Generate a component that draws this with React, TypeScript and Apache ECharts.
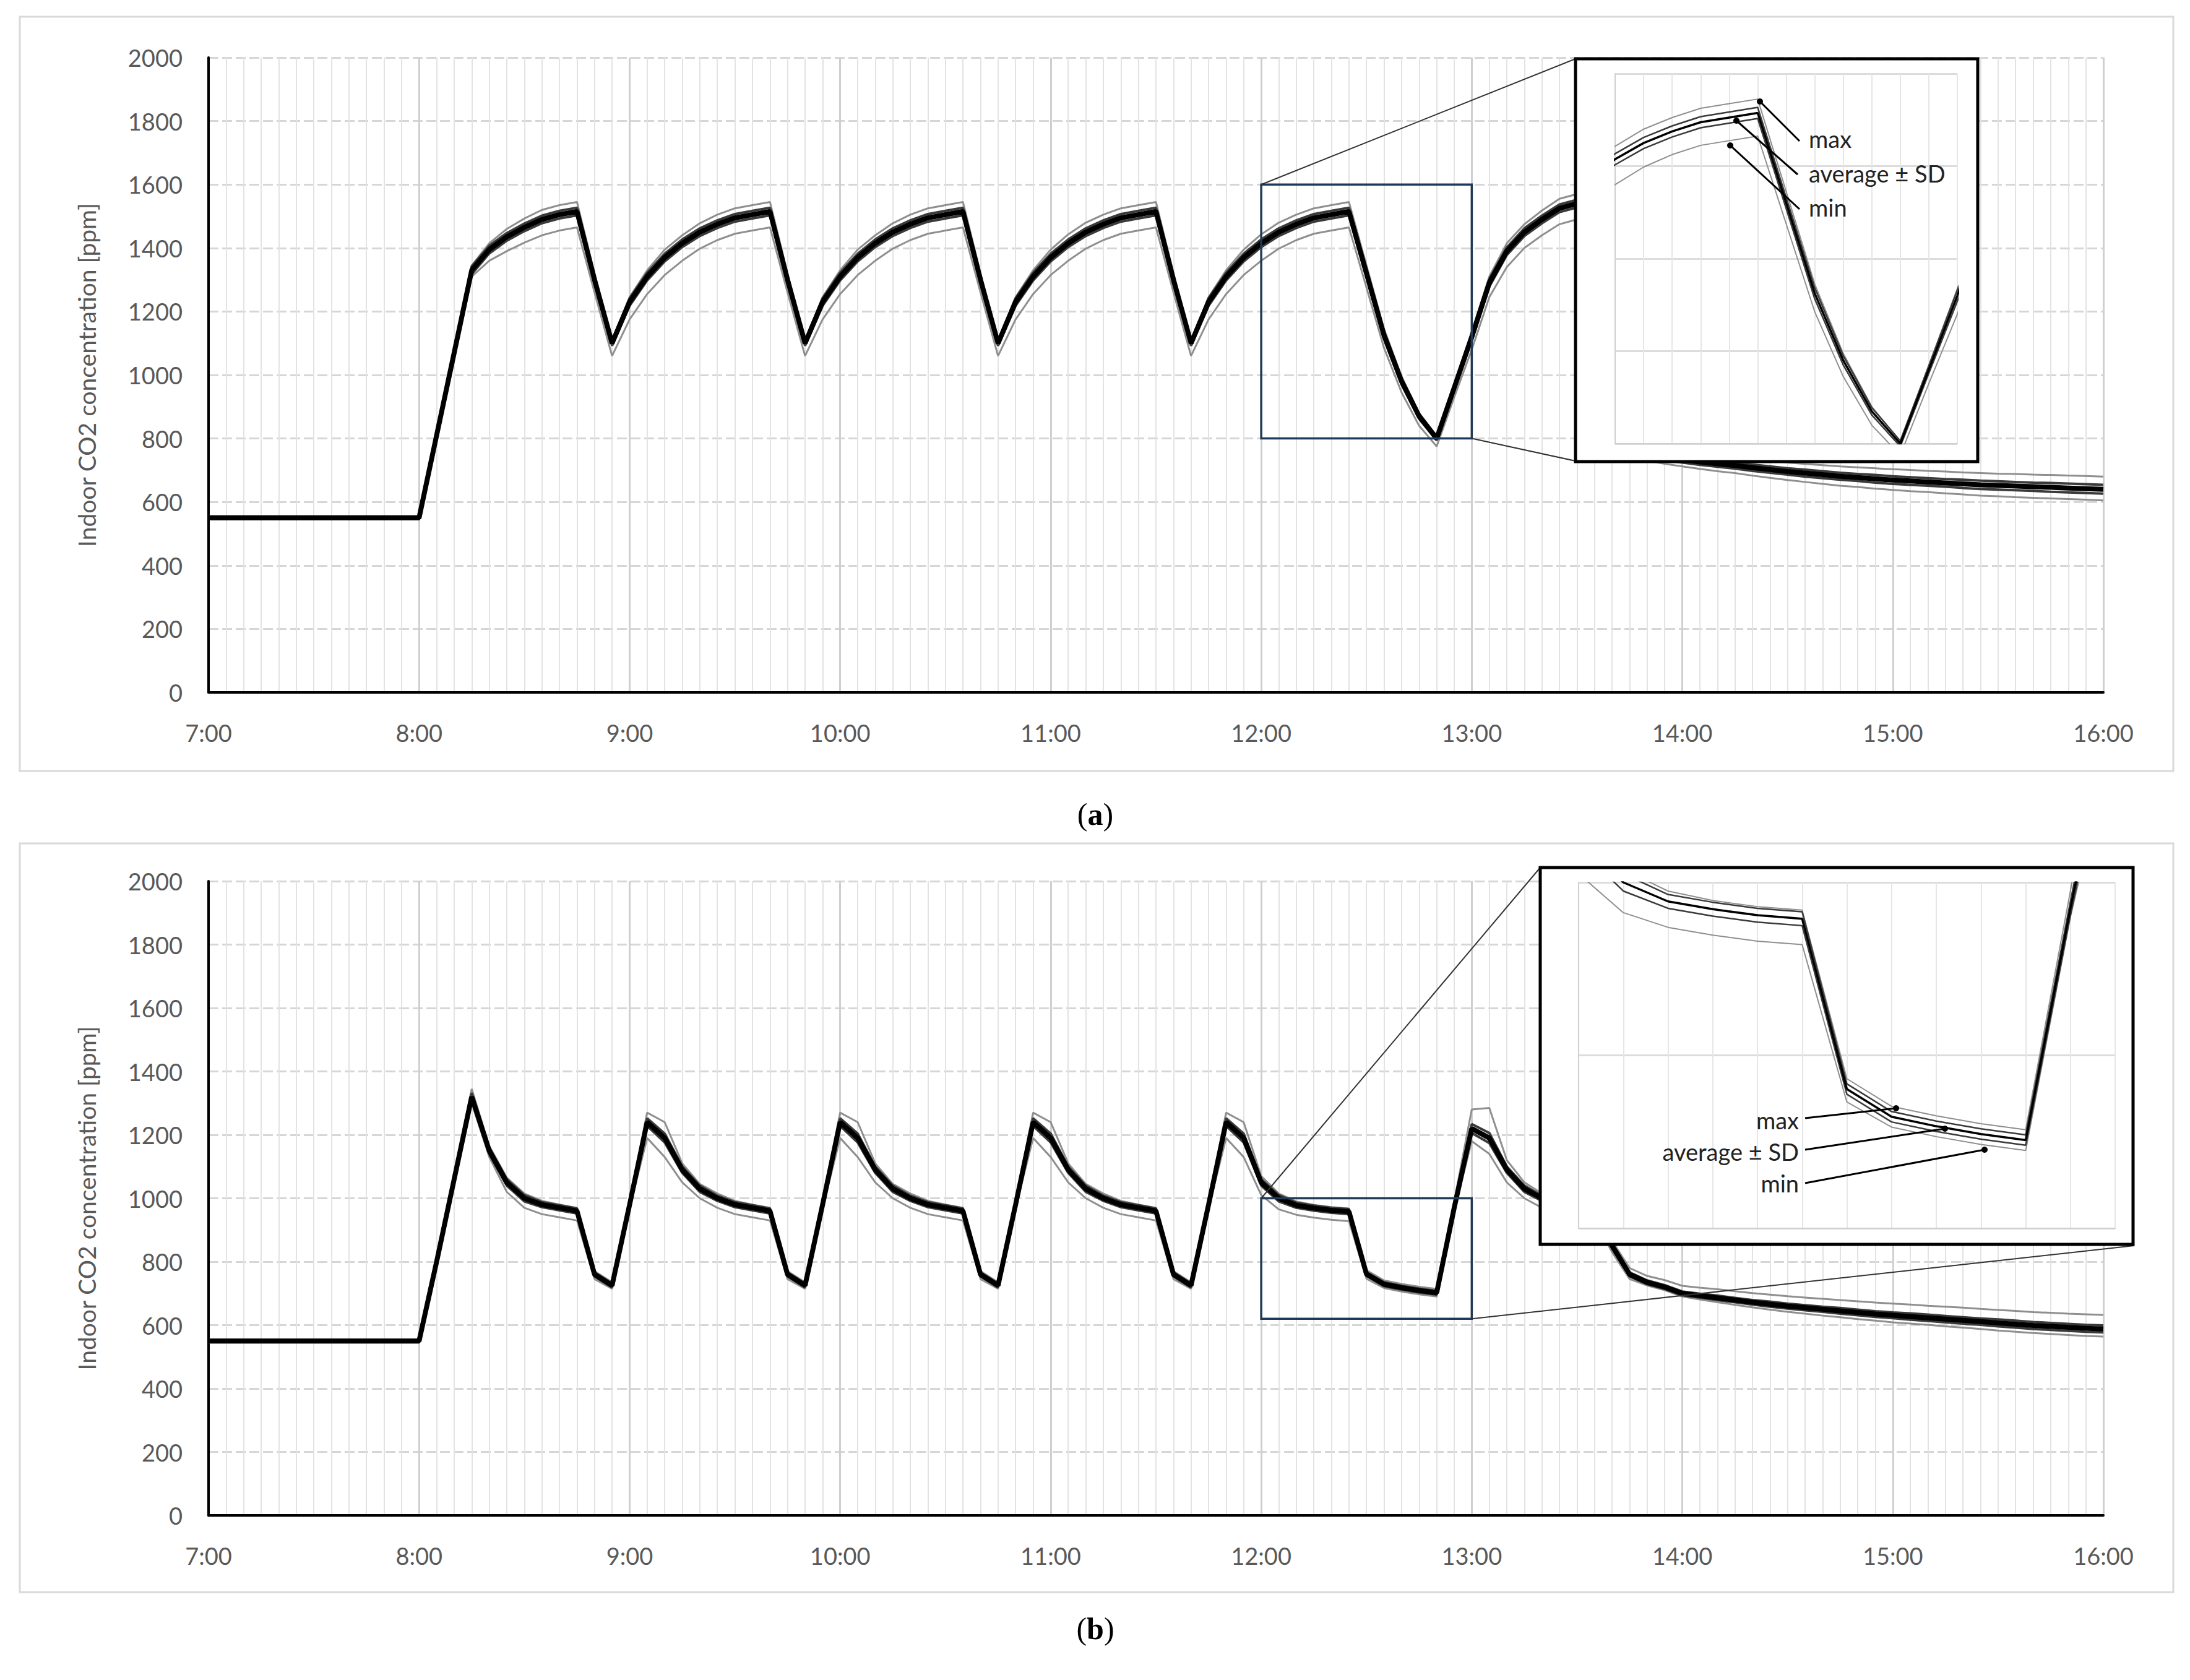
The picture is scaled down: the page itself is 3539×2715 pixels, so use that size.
import React, { useEffect, useRef } from "react";
import * as echarts from "echarts";

// one value every 5 minutes, 7:00 .. 16:00 (each row = one hour)
const avgA = [
  550, 550, 550, 550, 550, 550, 550, 550, 550, 550, 550, 550,
  550, 810, 1070, 1330, 1395, 1435, 1465, 1490, 1505, 1515, 1300, 1100,
  1230, 1310, 1370, 1415, 1450, 1475, 1495, 1505, 1515, 1300, 1100, 1230,
  1310, 1370, 1415, 1450, 1475, 1495, 1505, 1515, 1300, 1100, 1230, 1310,
  1370, 1415, 1450, 1475, 1495, 1505, 1515, 1300, 1100, 1230, 1310, 1370,
  1415, 1450, 1475, 1495, 1505, 1515, 1320, 1125, 980, 870, 800, 960,
  1120, 1290, 1390, 1450, 1490, 1525, 1540, 1550, 1150, 850, 750, 740,
  733, 726, 720, 715, 708, 702, 696, 691, 686, 681, 677, 673,
  669, 666, 663, 660, 657, 654, 652, 650, 648, 646, 644, 642,
  640,
];
const maxOffA = [
  5, 5, 5, 5, 5, 5, 5, 5, 5, 5, 5, 5,
  5, 10, 10, 15, 20, 25, 28, 30, 30, 30, 20, 0,
  15, 20, 25, 25, 28, 30, 30, 30, 30, 20, 0, 15,
  20, 25, 25, 28, 30, 30, 30, 30, 20, 0, 15, 20,
  25, 28, 30, 30, 30, 30, 30, 20, 0, 15, 20, 25,
  28, 30, 30, 30, 30, 30, 25, 20, 15, 10, 5, 10,
  15, 20, 25, 25, 28, 30, 30, 30, 25, 20, 18, 20,
  22, 23, 24, 25, 26, 27, 28, 29, 30, 31, 32, 33,
  34, 35, 35, 36, 36, 37, 37, 38, 38, 39, 39, 40,
  40,
];
const minOffA = [
  5, 5, 5, 5, 5, 5, 5, 5, 5, 5, 5, 5,
  5, 10, 20, 20, 35, 45, 48, 50, 50, 50, 40, 40,
  55, 55, 55, 55, 52, 50, 50, 50, 50, 40, 40, 55,
  55, 55, 55, 52, 50, 50, 50, 50, 40, 40, 55, 55,
  55, 55, 52, 50, 50, 50, 50, 40, 40, 55, 55, 55,
  55, 52, 50, 50, 50, 50, 45, 40, 35, 30, 25, 30,
  40, 45, 50, 50, 50, 50, 50, 50, 40, 30, 20, 20,
  21, 22, 23, 24, 25, 26, 27, 28, 29, 30, 30, 31,
  31, 32, 32, 33, 33, 34, 34, 35, 35, 35, 35, 35,
  35,
];
const sdA = [
  3, 3, 3, 3, 3, 3, 3, 3, 3, 3, 3, 3,
  3, 8, 10, 12, 12, 12, 12, 12, 12, 12, 10, 8,
  12, 12, 12, 12, 12, 12, 12, 12, 12, 10, 8, 12,
  12, 12, 12, 12, 12, 12, 12, 12, 10, 8, 12, 12,
  12, 12, 12, 12, 12, 12, 12, 10, 8, 12, 12, 12,
  12, 12, 12, 12, 12, 12, 12, 12, 10, 8, 6, 8,
  12, 12, 12, 12, 12, 12, 12, 12, 10, 8, 8, 8,
  9, 9, 9, 10, 10, 10, 10, 11, 11, 11, 11, 12,
  12, 12, 12, 12, 13, 13, 13, 13, 13, 14, 14, 14,
  14,
];

const avgB = [
  550, 550, 550, 550, 550, 550, 550, 550, 550, 550, 550, 550,
  550, 800, 1060, 1320, 1150, 1050, 1000, 980, 970, 960, 760, 725,
  980, 1240, 1190, 1090, 1030, 1000, 980, 970, 960, 760, 725, 980,
  1240, 1190, 1090, 1030, 1000, 980, 970, 960, 760, 725, 980, 1240,
  1190, 1090, 1030, 1000, 980, 970, 960, 760, 725, 980, 1240, 1190,
  1050, 1000, 978, 969, 962, 958, 761, 729, 718, 709, 702, 970,
  1220, 1190, 1090, 1030, 1000, 980, 970, 960, 850, 760, 735, 720,
  700, 693, 686, 679, 672, 666, 660, 655, 650, 645, 640, 635,
  631, 627, 623, 619, 615, 611, 607, 603, 599, 596, 593, 590,
  588,
];
const maxOffB = [
  5, 5, 5, 5, 5, 5, 5, 5, 5, 5, 5, 5,
  5, 10, 15, 25, 15, 15, 15, 12, 10, 10, 10, 10,
  15, 30, 50, 20, 15, 15, 12, 10, 10, 10, 10, 15,
  30, 50, 20, 15, 15, 12, 10, 10, 10, 10, 15, 30,
  50, 20, 15, 15, 12, 10, 10, 10, 10, 15, 30, 50,
  20, 15, 12, 10, 10, 10, 12, 12, 12, 12, 12, 20,
  60, 95, 30, 20, 15, 15, 12, 10, 15, 20, 20, 22,
  24, 25, 27, 28, 29, 30, 31, 32, 33, 34, 35, 36,
  37, 38, 38, 39, 40, 40, 41, 42, 42, 43, 43, 44,
  44,
];
const minOffB = [
  5, 5, 5, 5, 5, 5, 5, 5, 5, 5, 5, 5,
  5, 10, 15, 20, 20, 30, 30, 30, 30, 30, 15, 10,
  10, 50, 60, 40, 30, 30, 30, 30, 30, 15, 10, 10,
  50, 60, 40, 30, 30, 30, 30, 30, 15, 10, 10, 50,
  60, 40, 30, 30, 30, 30, 30, 15, 10, 10, 50, 60,
  40, 35, 30, 30, 30, 30, 15, 12, 12, 12, 12, 10,
  40, 50, 40, 30, 30, 30, 30, 30, 20, 15, 10, 10,
  10, 12, 14, 15, 16, 17, 18, 19, 20, 20, 21, 21,
  22, 22, 22, 23, 23, 23, 24, 24, 24, 24, 24, 24,
  24,
];
const sdB = [
  3, 3, 3, 3, 3, 3, 3, 3, 3, 3, 3, 3,
  3, 8, 10, 12, 10, 10, 10, 8, 8, 8, 6, 6,
  8, 12, 14, 10, 10, 8, 8, 8, 8, 6, 6, 8,
  12, 14, 10, 10, 8, 8, 8, 8, 6, 6, 8, 12,
  14, 10, 10, 8, 8, 8, 8, 6, 6, 8, 12, 14,
  10, 10, 8, 8, 8, 8, 6, 6, 6, 6, 6, 8,
  14, 16, 10, 10, 8, 8, 8, 8, 8, 6, 6, 6,
  6, 6, 7, 7, 7, 8, 8, 8, 8, 9, 9, 9,
  9, 10, 10, 10, 10, 10, 11, 11, 11, 11, 11, 11,
  11,
];

const hourLabels = ["7:00", "8:00", "9:00", "10:00", "11:00", "12:00", "13:00", "14:00", "15:00", "16:00"];
const legendLabels = ["max", "average ± SD", "min"];
const yTitle = "Indoor CO2 concentration [ppm]";

const FONT = "Lato, 'Open Sans', sans-serif";
const LABEL = "#595959";

const minutes = avgA.map((_, i) => i * 5);

const pairs = (vals: number[]) => vals.map((v, i) => [minutes[i], v]);

const App: React.FC = () => {
  const ref = useRef<HTMLDivElement>(null);

  useEffect(() => {
    if (!ref.current) return;
    const chart = echarts.init(ref.current, null, { renderer: "svg" });

    const mainX = (gi: number) => ({
      type: "value" as const,
      gridIndex: gi,
      min: 0,
      max: 540,
      interval: 60,
      axisLine: { show: true, lineStyle: { color: "#000", width: 4 } },
      axisTick: { show: false },
      minorTick: { show: false, splitNumber: 12 },
      minorSplitLine: { show: true, lineStyle: { color: "#e3e3e3", width: 2 } },
      splitLine: { show: true, lineStyle: { color: "#cfcfcf", width: 3 } },
      axisLabel: {
        fontSize: 38,
        color: LABEL,
        fontFamily: FONT,
        margin: 46,
        formatter: (v: number) => hourLabels[Math.round(v / 60)],
      },
    });
    const mainY = (gi: number) => ({
      type: "value" as const,
      gridIndex: gi,
      min: 0,
      max: 2000,
      interval: 200,
      name: yTitle,
      nameLocation: "middle" as const,
      nameRotate: 90,
      nameGap: 178,
      nameTextStyle: { fontSize: 39, color: LABEL, fontFamily: FONT },
      axisLine: { show: true, lineStyle: { color: "#000", width: 4 } },
      axisTick: { show: false },
      splitLine: { show: true, lineStyle: { color: "#d6d6d6", width: 3, type: [16, 6] } },
      axisLabel: { fontSize: 38, color: LABEL, fontFamily: FONT, margin: 42, formatter: (v: number) => String(v) },
    });
    const insetX = (gi: number) => ({
      type: "value" as const,
      gridIndex: gi,
      min: 300,
      max: 360,
      interval: 5,
      z: 15,
      axisLine: { show: true, lineStyle: { color: "#cfcfcf", width: 2 } },
      axisTick: { show: false },
      axisLabel: { show: false },
      splitLine: { show: true, lineStyle: { color: "#e6e6e6", width: 2 } },
    });
    const insetY = (gi: number, lo: number, hi: number) => ({
      type: "value" as const,
      gridIndex: gi,
      min: lo,
      max: hi,
      interval: 200,
      z: 15,
      axisLine: { show: true, lineStyle: { color: "#cfcfcf", width: 2 } },
      axisTick: { show: false },
      axisLabel: { show: false },
      splitLine: { show: true, lineStyle: { color: "#dcdcdc", width: 3 } },
    });

    const panelSeries = (
      axis: number,
      avg: number[],
      maxOff: number[],
      minOff: number[],
      sd: number[],
      inset: boolean
    ) => {
      const z = inset ? 20 : 2;
      const base = {
        type: "line" as const,
        xAxisIndex: axis,
        yAxisIndex: axis,
        showSymbol: false,
        silent: true,
        z,
      };
      return [
        { ...base, data: pairs(avg.map((v, i) => v + maxOff[i])), lineStyle: { color: "#8f8f8f", width: inset ? 2 : 3 } },
        { ...base, data: pairs(avg.map((v, i) => v - minOff[i])), lineStyle: { color: "#8f8f8f", width: inset ? 2 : 3 } },
        { ...base, data: pairs(avg.map((v, i) => v + sd[i])), lineStyle: { color: "#3a3a3a", width: inset ? 2.5 : 4 } },
        { ...base, data: pairs(avg.map((v, i) => v - sd[i])), lineStyle: { color: "#3a3a3a", width: inset ? 2.5 : 4 } },
        { ...base, data: pairs(avg), lineStyle: { color: "#000", width: inset ? 3.5 : 8 } },
      ];
    };

    chart.setOption({
      animation: false,
      backgroundColor: "#fff",
      grid: [
        { left: 337, top: 93, width: 3062, height: 1026 },
        { left: 2610, top: 119, width: 553, height: 598 },
        { left: 337, top: 1424, width: 3062, height: 1025 },
        { left: 2551, top: 1426, width: 867, height: 559 },
      ],
      xAxis: [mainX(0), insetX(1), mainX(2), insetX(3)],
      yAxis: [mainY(0), insetY(1, 800, 1600), mainY(2), insetY(3, 600, 1000)],
      series: [
        ...panelSeries(0, avgA, maxOffA, minOffA, sdA, false),
        ...panelSeries(1, avgA, maxOffA, minOffA, sdA, true),
        ...panelSeries(2, avgB, maxOffB, minOffB, sdB, false),
        ...panelSeries(3, avgB, maxOffB, minOffB, sdB, true),
      ],
    });

    const px = (axis: number, x: number, y: number) =>
      chart.convertToPixel({ xAxisIndex: axis, yAxisIndex: axis }, [x, y]) as number[];

    // zoom source rectangles
    const a1 = px(0, 300, 1600);
    const a2 = px(0, 360, 800);
    const b1 = px(2, 300, 1000);
    const b2 = px(2, 360, 620);

    const thin = { stroke: "#333", lineWidth: 2 };
    const arrow = (x1: number, y1: number, x2: number, y2: number) => [
      { type: "line", z: 30, shape: { x1, y1, x2, y2 }, style: { stroke: "#000", lineWidth: 3 } },
      { type: "circle", z: 30, shape: { cx: x2, cy: y2, r: 5 }, style: { fill: "#000" } },
    ];
    const label = (x: number, y: number, text: string, align: string) => ({
      type: "text",
      z: 30,
      x,
      y,
      style: { text, fontSize: 38, fontFamily: FONT, fill: "#222", align, verticalAlign: "middle" },
    });
    const caption = (y: number, letter: string) => ({
      type: "text",
      x: 1770,
      y,
      style: {
        text: "{n|(}{b|" + letter + "}{n|)}",
        align: "center",
        verticalAlign: "middle",
        rich: {
          n: { fontSize: 50, fontFamily: "'Liberation Serif', serif", fill: "#000" },
          b: { fontSize: 50, fontFamily: "'Liberation Serif', serif", fontWeight: "bold", fill: "#000" },
        },
      },
    });

    chart.setOption({
      graphic: [
        { type: "rect", z: -1, shape: { x: 32, y: 27, width: 3480, height: 1219 }, style: { fill: "none", stroke: "#d9d9d9", lineWidth: 3 } },
        { type: "rect", z: -1, shape: { x: 32, y: 1363, width: 3480, height: 1210 }, style: { fill: "none", stroke: "#d9d9d9", lineWidth: 3 } },
        caption(1316, "a"),
        caption(2632, "b"),
        // panel a zoom
        { type: "rect", z: 5, shape: { x: a1[0], y: a1[1], width: a2[0] - a1[0], height: a2[1] - a1[1] }, style: { fill: "none", stroke: "#1f3a56", lineWidth: 3.5 } },
        { type: "line", z: 5, shape: { x1: a1[0], y1: a1[1], x2: 2546, y2: 95 }, style: thin },
        { type: "line", z: 5, shape: { x1: a2[0], y1: a2[1], x2: 2546, y2: 745 }, style: thin },
        { type: "rect", z: 10, shape: { x: 2546, y: 95, width: 650, height: 651 }, style: { fill: "#fff", stroke: "#000", lineWidth: 5 } },
        ...arrow(2908, 228, 2844, 164),
        ...arrow(2905, 282, 2806, 195),
        ...arrow(2908, 338, 2796, 235),
        label(2923, 224, legendLabels[0], "left"),
        label(2923, 280, legendLabels[1], "left"),
        label(2923, 335, legendLabels[2], "left"),
        // panel b zoom
        { type: "rect", z: 5, shape: { x: b1[0], y: b1[1], width: b2[0] - b1[0], height: b2[1] - b1[1] }, style: { fill: "none", stroke: "#1f3a56", lineWidth: 3.5 } },
        { type: "line", z: 5, shape: { x1: b1[0], y1: b1[1], x2: 2489, y2: 1402 }, style: thin },
        { type: "line", z: 5, shape: { x1: b2[0], y1: b2[1], x2: 3449, y2: 2013 }, style: thin },
        { type: "rect", z: 10, shape: { x: 2489, y: 1402, width: 958, height: 609 }, style: { fill: "#fff", stroke: "#000", lineWidth: 5 } },
        ...arrow(2917, 1807, 3064, 1791),
        ...arrow(2917, 1858, 3143, 1824),
        ...arrow(2917, 1912, 3207, 1858),
        label(2907, 1810, legendLabels[0], "right"),
        label(2907, 1861, legendLabels[1], "right"),
        label(2907, 1912, legendLabels[2], "right"),
      ],
    });

    return () => {
      chart.dispose();
    };
  }, []);

  return (
    <div
      ref={ref}
      style={{ position: "absolute", left: 0, top: 0, width: 3539, height: 2715, background: "#fff" }}
    />
  );
};

export default App;
